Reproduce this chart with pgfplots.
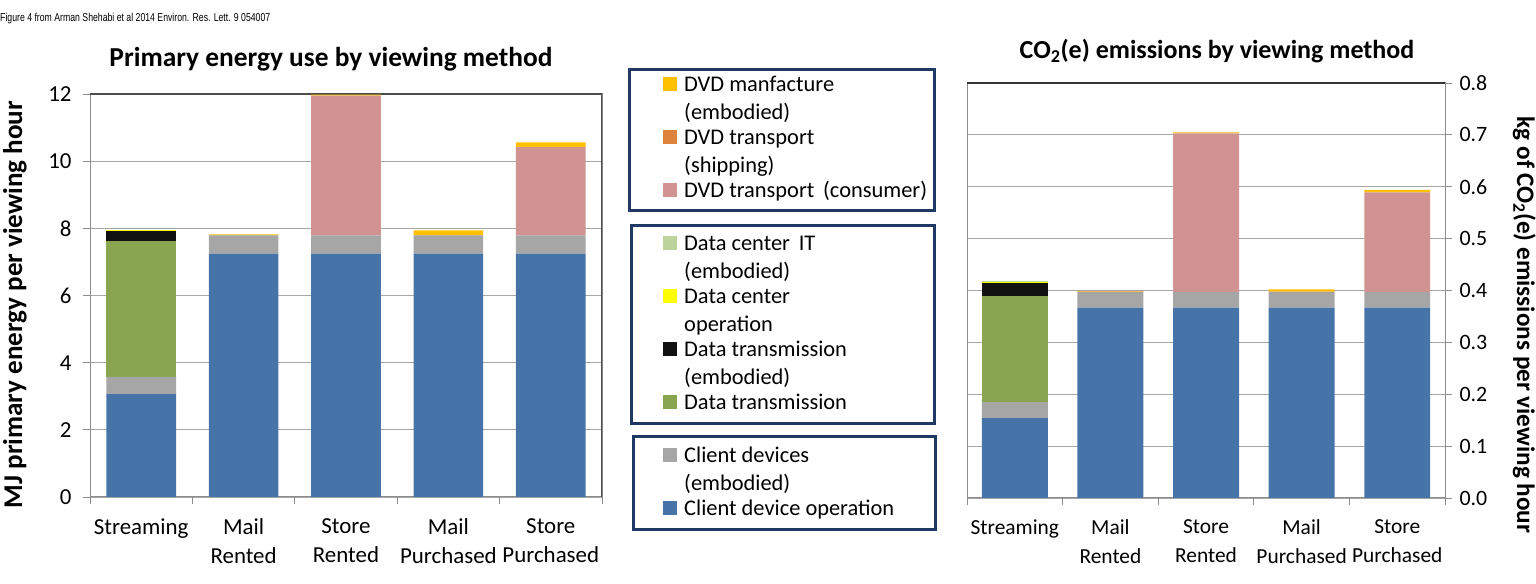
\documentclass[border=0pt]{standalone}
\usepackage{pgfplots}
\pgfplotsset{compat=1.18}
\usepackage{fontspec}
\setmainfont{Carlito}
\newfontfamily\notefont{Liberation Sans}

\definecolor{cdop}{HTML}{4674A8}
\definecolor{cdemb}{HTML}{A6A6A6}
\definecolor{dtrans}{HTML}{8AA54F}
\definecolor{dtemb}{HTML}{111111}
\definecolor{dcop}{HTML}{FFFF00}
\definecolor{dcemb}{HTML}{BCD39C}
\definecolor{dvdcons}{HTML}{D19292}
\definecolor{dvdship}{HTML}{DE833C}
\definecolor{dvdman}{HTML}{FFC000}
\definecolor{boxnavy}{HTML}{1F3864}
\definecolor{axgray}{HTML}{8C8C8C}
\definecolor{gridgray}{HTML}{A6A6A6}
\definecolor{frame}{HTML}{4D4D4D}

% primary energy, MJ per viewing hour
\pgfplotstableread{
x  cdop  cdemb dtrans dtemb dcop dcemb dvdcons dvdship dvdman
0  3.06  0.52  4.05   0.29  0.02 0.01  0       0       0
1  7.25  0.54  0      0     0    0     0       0.01    0.02
2  7.25  0.54  0      0     0    0     4.16    0       0.03
3  7.25  0.54  0      0     0    0     0       0.01    0.14
4  7.25  0.54  0      0     0    0     2.63    0       0.14
}\energy

% CO2(e), kg per viewing hour
\pgfplotstableread{
x  cdop   cdemb dtrans dtemb dcop  dcemb dvdcons dvdship dvdman
0  0.154  0.031 0.205  0.025 0.002 0.001 0       0       0
1  0.367  0.030 0      0     0     0     0       0.001   0.001
2  0.367  0.030 0      0     0     0     0.306   0       0.002
3  0.367  0.030 0      0     0     0     0       0.001   0.004
4  0.367  0.030 0      0     0     0     0.192   0       0.005
}\carbon

\pgfplotsset{
  viewing/.style={
    scale only axis,
    ybar stacked,
    xmin=-0.5, xmax=4.5,
    xtick={-0.5,0.5,1.5,2.5,3.5,4.5},
    xticklabels={,,,,,},
    extra x ticks={0,1,2,3,4},
    extra x tick labels={Streaming,{Mail\\Rented},{Store\\Rented},{Mail\\Purchased},{Store\\Purchased}},
    extra x tick style={major tick length=0pt, grid=none,
      xticklabel style={align=center, yshift=-18bp}},
    xtick pos=bottom,
    tick align=outside,
    major tick length=7bp,
    tick style={draw=axgray, line width=0.9bp},
    ymajorgrids,
    grid style={draw=gridgray, line width=1.1bp},
    axis line style={draw=axgray, line width=1bp},
    /pgf/number format/assume math mode=true,
    every axis plot/.append style={draw=none},
  },
}

\begin{document}
\begin{tikzpicture}[x=1bp, y=1bp]

\node[anchor=west, inner sep=0pt, font=\notefont\fontsize{11.5}{13}\selectfont] at (0,565) {\scalebox{0.76}[1]{Figure 4 from Arman Shehabi et al 2014 Environ. Res. Lett. 9 054007}};

% left panel: primary energy
\begin{axis}[viewing,
  at={(90bp,87bp)}, anchor=south west,
  width=512bp, height=403bp,
  ymin=0, ymax=12,
  ytick={0,2,4,6,8,10,12},
  ytick pos=left,
  ticklabel style={font=\fontsize{23}{29}\selectfont},
  yticklabel style={xshift=-8bp},
  bar width=0.68,
]
\addplot[fill=cdop] table[x=x, y=cdop] {\energy};
\addplot[fill=cdemb] table[x=x, y=cdemb] {\energy};
\addplot[fill=dtrans] table[x=x, y=dtrans] {\energy};
\addplot[fill=dtemb] table[x=x, y=dtemb] {\energy};
\addplot[fill=dcop] table[x=x, y=dcop] {\energy};
\addplot[fill=dcemb] table[x=x, y=dcemb] {\energy};
\addplot[fill=dvdcons] table[x=x, y=dvdcons] {\energy};
\addplot[fill=dvdship] table[x=x, y=dvdship] {\energy};
\addplot[fill=dvdman] table[x=x, y=dvdman] {\energy};
\draw[frame, line width=1.1bp] (rel axis cs:0,1) -- (rel axis cs:1,1) -- (rel axis cs:1,0);
\end{axis}

% right panel: CO2(e)
\begin{axis}[viewing,
  at={(967bp,86bp)}, anchor=south west,
  width=478bp, height=415bp,
  ymin=0, ymax=0.8,
  ytick={0,0.1,0.2,0.3,0.4,0.5,0.6,0.7,0.8},
  ytick pos=right,
  yticklabel pos=right,
  ticklabel style={font=\fontsize{21.5}{29}\selectfont},
  yticklabel style={font=\fontsize{22}{28}\selectfont, xshift=4bp,
    /pgf/number format/.cd, fixed, fixed zerofill, precision=1},
  bar width=0.69,
]
\addplot[fill=cdop] table[x=x, y=cdop] {\carbon};
\addplot[fill=cdemb] table[x=x, y=cdemb] {\carbon};
\addplot[fill=dtrans] table[x=x, y=dtrans] {\carbon};
\addplot[fill=dtemb] table[x=x, y=dtemb] {\carbon};
\addplot[fill=dcop] table[x=x, y=dcop] {\carbon};
\addplot[fill=dcemb] table[x=x, y=dcemb] {\carbon};
\addplot[fill=dvdcons] table[x=x, y=dvdcons] {\carbon};
\addplot[fill=dvdship] table[x=x, y=dvdship] {\carbon};
\addplot[fill=dvdman] table[x=x, y=dvdman] {\carbon};
\draw[frame!70!black, line width=1.1bp] (rel axis cs:0,1) -- (rel axis cs:1,1);
\end{axis}

% titles and axis labels
\node[anchor=base, font=\bfseries\fontsize{27.5}{32}\selectfont] at (331,517) {Primary energy use by viewing method};
\node[anchor=base, font=\bfseries\fontsize{26.1}{31}\selectfont] at (1217,525.5) {CO\textsubscript{2}(e) emissions by viewing method};
\node[rotate=90, anchor=base, font=\bfseries\fontsize{27.2}{32}\selectfont] at (22,279.5) {MJ primary energy per viewing hour};
\node[rotate=-90, anchor=base, font=\bfseries\fontsize{25.3}{30}\selectfont] at (1517,259) {kg of CO\textsubscript{2}(e) emissions per viewing hour};

% legend boxes
\draw[boxnavy, line width=3bp] (629,514) rectangle (934,373);
\draw[boxnavy, line width=3bp] (631,358) rectangle (934,160);
\draw[boxnavy, line width=3bp] (633,147) rectangle (935,54);

\foreach \yc/\txt in {
  500/{DVD manfacture}, 472/{(embodied)},
  447/{DVD transport}, 419/{(shipping)},
  394/{DVD transport\ \,(consumer)},
  341/{Data center\ \,IT}, 313/{(embodied)},
  288/{Data center}, 260/{operation},
  235/{Data transmission}, 207/{(embodied)},
  182/{Data transmission},
  129/{Client devices}, 101/{(embodied)},
  76/{Client device operation}} {
  \node[anchor=base west, inner sep=0pt, font=\fontsize{22.5}{26}\selectfont] at (684,\yc-7.5) {\txt};
}
\foreach \yc/\col in {500/dvdman, 447/dvdship, 394/dvdcons, 341/dcemb, 288/dcop,
  235/dtemb, 182/dtrans, 129/cdemb, 76/cdop} {
  \fill[\col] (663,\yc-7) rectangle (677,\yc+7);
}

\pgfresetboundingbox
\path[use as bounding box] (0,0) rectangle (1536,584);
\end{tikzpicture}
\end{document}
